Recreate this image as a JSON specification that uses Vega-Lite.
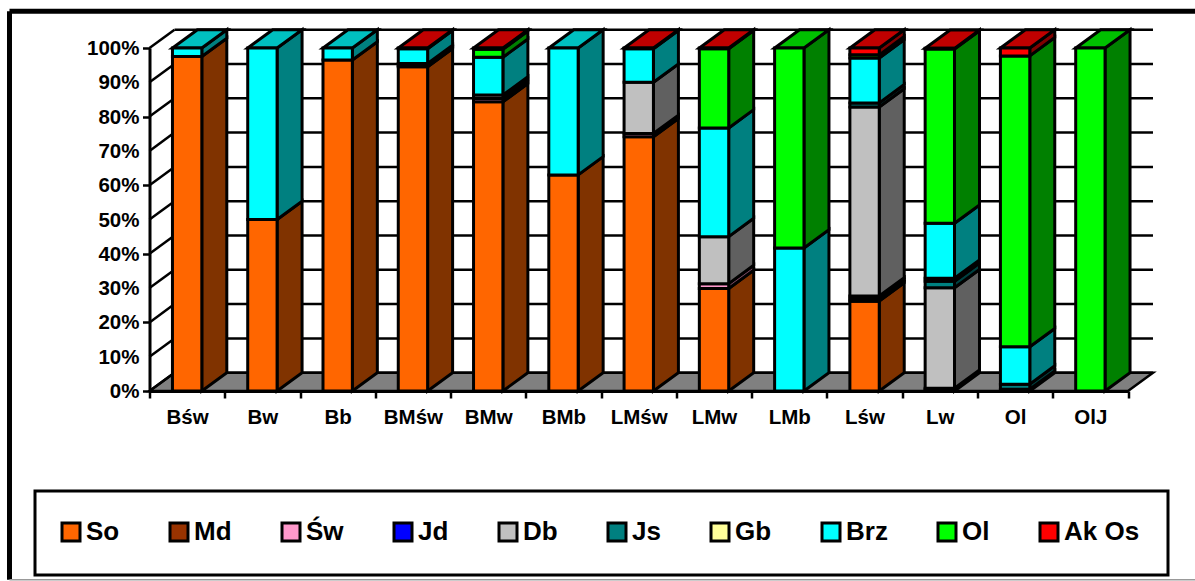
{
"$schema":"https://vega.github.io/schema/vega-lite/v6.json",
"width":978.5,"height":343,
"autosize":{"type":"none"},
"padding":{"left":149.5,"top":48,"right":67,"bottom":190},
"background":"white",
"config":{"view":{"stroke":null},"font":"Liberation Sans",
"legend":{"strokeColor":"black","strokeWidth":3,"gridAlign":"none"}},
"datasets":{
"bars":[
{"cat":"Bśw","series":"So","value":97.5},{"cat":"Bśw","series":"Brz","value":2.5},
{"cat":"Bw","series":"So","value":50},{"cat":"Bw","series":"Brz","value":50},
{"cat":"Bb","series":"So","value":96.5},{"cat":"Bb","series":"Brz","value":3.5},
{"cat":"BMśw","series":"So","value":94.5},{"cat":"BMśw","series":"Św","value":0.4},{"cat":"BMśw","series":"Db","value":0.6},{"cat":"BMśw","series":"Brz","value":4.3},{"cat":"BMśw","series":"Ak Os","value":0.2},
{"cat":"BMw","series":"So","value":84.3},{"cat":"BMw","series":"Św","value":1},{"cat":"BMw","series":"Db","value":1},{"cat":"BMw","series":"Brz","value":11},{"cat":"BMw","series":"Ol","value":2.3},{"cat":"BMw","series":"Ak Os","value":0.4},
{"cat":"BMb","series":"So","value":63},{"cat":"BMb","series":"Brz","value":37},
{"cat":"LMśw","series":"So","value":74.1},{"cat":"LMśw","series":"Św","value":1},{"cat":"LMśw","series":"Db","value":14.9},{"cat":"LMśw","series":"Brz","value":9.8},{"cat":"LMśw","series":"Ak Os","value":0.2},
{"cat":"LMw","series":"So","value":29.9},{"cat":"LMw","series":"Św","value":1.4},{"cat":"LMw","series":"Db","value":13.7},{"cat":"LMw","series":"Brz","value":31.7},{"cat":"LMw","series":"Ol","value":23.1},{"cat":"LMw","series":"Ak Os","value":0.2},
{"cat":"LMb","series":"Brz","value":41.7},{"cat":"LMb","series":"Ol","value":58.3},
{"cat":"Lśw","series":"So","value":26.2},{"cat":"Lśw","series":"Św","value":0.7},{"cat":"Lśw","series":"Jd","value":0.8},{"cat":"Lśw","series":"Db","value":55.1},{"cat":"Lśw","series":"Js","value":1.2},{"cat":"Lśw","series":"Brz","value":13.1},{"cat":"Lśw","series":"Ol","value":0.9},{"cat":"Lśw","series":"Ak Os","value":2},
{"cat":"Lw","series":"So","value":0.4},{"cat":"Lw","series":"Św","value":0.4},{"cat":"Lw","series":"Db","value":29.3},{"cat":"Lw","series":"Js","value":1.9},{"cat":"Lw","series":"Gb","value":0.9},{"cat":"Lw","series":"Brz","value":16},{"cat":"Lw","series":"Ol","value":50.8},{"cat":"Lw","series":"Ak Os","value":0.2},
{"cat":"Ol","series":"Db","value":0.5},{"cat":"Ol","series":"Js","value":1.5},{"cat":"Ol","series":"Brz","value":10.9},{"cat":"Ol","series":"Ol","value":84.8},{"cat":"Ol","series":"Ak Os","value":2.3},
{"cat":"OlJ","series":"Ol","value":100}
],
"ticks":[{"v":0},{"v":10},{"v":20},{"v":30},{"v":40},{"v":50},{"v":60},{"v":70},{"v":80},{"v":90},{"v":100}],
"floor":[{"t":0},{"t":1}]
},
"data":{"name":"bars"},
"transform":[
{"calculate":"indexof(['Bśw','Bw','Bb','BMśw','BMw','BMb','LMśw','LMw','LMb','Lśw','Lw','Ol','OlJ'],datum.cat)","as":"i"},
{"calculate":"indexof(['So','Md','Św','Jd','Db','Js','Gb','Brz','Ol','Ak Os'],datum.series)","as":"o"},
{"stack":"value","groupby":["cat"],"sort":[{"field":"o","order":"ascending"}],"as":["y0","y1"]},
{"joinaggregate":[{"op":"max","field":"o","as":"maxo"}],"groupby":["cat"]},
{"calculate":"[0,1]","as":"t"},
{"flatten":["t"]},
{"calculate":"datum.i+0.305+0.332*datum.t","as":"fx0"},
{"calculate":"datum.i+0.695+0.332*datum.t","as":"fx1"},
{"calculate":"datum.y0+5.34*datum.t","as":"sy0"},
{"calculate":"datum.y1+5.34*datum.t","as":"sy1"}
],
"resolve":{"scale":{"fill":"independent"}},
"layer":[
{"data":{"name":"floor"},"transform":[{"calculate":"0.332*datum.t","as":"a"},{"calculate":"13+0.332*datum.t","as":"b"},{"calculate":"5.34*datum.t","as":"c"}],
 "mark":{"type":"area","orient":"horizontal","fill":"#808080","stroke":"black","strokeWidth":2.5},
 "encoding":{"x":{"field":"a","type":"quantitative","stack":null,"scale":{"domain":[0,13],"nice":false,"zero":false},
   "axis":{"values":[0,1,2,3,4,5,6,7,8,9,10,11,12,13],"title":null,"grid":false,"domainColor":"black","domainWidth":3,"tickColor":"black","tickWidth":2.5,"tickSize":7,"labelOffset":37.6,"labelPadding":9,"labelFont":"Liberation Sans","labelFontWeight":"bold","labelFontSize":20.5,"labelColor":"black","labelAngle":0,"labelOverlap":false,"labelBound":false,"labelFlush":false,"labelExpr":"['Bśw','Bw','Bb','BMśw','BMw','BMb','LMśw','LMw','LMb','Lśw','Lw','Ol','OlJ',''][datum.value]"}},
  "x2":{"field":"b"},
  "y":{"field":"c","type":"quantitative","scale":{"domain":[0,100],"nice":false},
   "axis":{"values":[0,10,20,30,40,50,60,70,80,90,100],"title":null,"grid":false,"domainColor":"black","domainWidth":3,"tickColor":"black","tickWidth":2.5,"tickSize":7,"labels":false}}}},
{"data":{"name":"ticks"},"transform":[{"calculate":"datum.v+'%'","as":"lab"},{"calculate":"0","as":"xa"}],
 "mark":{"type":"text","align":"right","baseline":"middle","dx":-10,"dy":1,"font":"Liberation Sans","fontWeight":"bold","fontSize":20.5,"color":"black"},
 "encoding":{"x":{"field":"xa","type":"quantitative"},"y":{"field":"v","type":"quantitative"},"text":{"field":"lab"}}},
{"data":{"name":"ticks"},"transform":[{"calculate":"datum.v+5.34","as":"yb"},{"calculate":"0.332","as":"xa"},{"calculate":"13.332","as":"xb"}],
 "mark":{"type":"rule","stroke":"black","strokeWidth":2.5},
 "encoding":{"x":{"field":"xa","type":"quantitative"},"x2":{"field":"xb"},"y":{"field":"yb","type":"quantitative"}}},
{"data":{"name":"ticks"},"transform":[{"calculate":"datum.v+5.34","as":"yb"},{"calculate":"0","as":"xa"},{"calculate":"0.332","as":"xb"}],
 "mark":{"type":"rule","stroke":"black","strokeWidth":2.5},
 "encoding":{"x":{"field":"xa","type":"quantitative"},"x2":{"field":"xb"},"y":{"field":"v","type":"quantitative"},"y2":{"field":"yb"}}},
{"mark":{"type":"area","stroke":"black","strokeWidth":3,"strokeJoin":"miter"},
 "encoding":{"x":{"field":"fx1","type":"quantitative"},
  "y":{"field":"sy0","type":"quantitative","stack":null},"y2":{"field":"sy1"},
  "detail":{"field":"cat"},
  "fill":{"field":"series","type":"nominal","legend":null,"scale":{"domain":["So","Md","Św","Jd","Db","Js","Gb","Brz","Ol","Ak Os"],"range":["#803300","#4d1a00","#804d66","#000080","#606060","#004040","#80804d","#008080","#008000","#800000"]}}}},
{"transform":[{"filter":"datum.o==datum.maxo"}],
 "mark":{"type":"area","orient":"horizontal","stroke":"black","strokeWidth":3,"strokeJoin":"miter"},
 "encoding":{"x":{"field":"fx0","type":"quantitative","stack":null},"x2":{"field":"fx1"},
  "y":{"field":"sy1","type":"quantitative"},
  "detail":{"field":"cat"},
  "fill":{"field":"series","type":"nominal","legend":null,"scale":{"domain":["Brz","Ol","Ak Os"],"range":["#00C0C0","#00C000","#C00000"]}}}},
{"transform":[{"filter":"datum.t==0"},{"calculate":"datum.i+0.305","as":"bx0"},{"calculate":"datum.i+0.695","as":"bx1"}],
 "mark":{"type":"bar","stroke":"black","strokeWidth":3},
 "encoding":{"x":{"field":"bx0","type":"quantitative"},"x2":{"field":"bx1"},
  "y":{"field":"y0","type":"quantitative"},"y2":{"field":"y1"},
  "color":{"field":"series","type":"nominal","scale":{"domain":["So","Md","Św","Jd","Db","Js","Gb","Brz","Ol","Ak Os"],"range":["#FF6600","#993300","#FF99CC","#0000FF","#C0C0C0","#008080","#FFFF99","#00FFFF","#00FF00","#FF0000"]},
   "legend":{"title":null,"orient":"none","legendX":-114.5,"legendY":443,"direction":"horizontal","columns":10,"padding":28,"columnPadding":44,"symbolType":"square","symbolSize":324,"symbolOffset":-5,"symbolStrokeColor":"black","symbolStrokeWidth":3,"labelFont":"Liberation Sans","labelFontWeight":"bold","labelFontSize":26,"labelColor":"black","labelOffset":2,"fillColor":"white","strokeColor":"black"}}}},
{"data":{"values":[{"a":-1.86,"b":13.9,"c":110.7,"d":-55}]},
 "mark":{"type":"rule","stroke":"black","strokeWidth":5},
 "encoding":{"x":{"field":"a","type":"quantitative"},"x2":{"field":"b"},"y":{"field":"c","type":"quantitative"}}},
{"data":{"values":[{"a":-1.86,"b":13.9,"c":110.7,"d":-55}]},
 "mark":{"type":"rule","stroke":"black","strokeWidth":5},
 "encoding":{"x":{"field":"a","type":"quantitative"},"y":{"field":"c","type":"quantitative"},"y2":{"field":"d"}}},
{"data":{"values":[{"a":-1.86,"b":13.9,"c":-55}]},
 "mark":{"type":"rule","stroke":"#999999","strokeWidth":1.5},
 "encoding":{"x":{"field":"a","type":"quantitative"},"x2":{"field":"b"},"y":{"field":"c","type":"quantitative"}}}
]
}
